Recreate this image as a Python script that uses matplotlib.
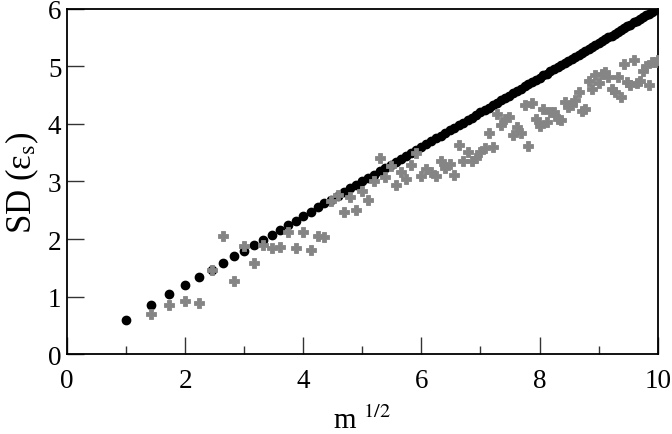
import numpy as np
import matplotlib
matplotlib.use("Agg")
import matplotlib.pyplot as plt
from matplotlib.ticker import MultipleLocator

plt.rcParams['font.family'] = ['Liberation Serif', 'DejaVu Serif']
plt.rcParams['mathtext.fontset'] = 'stix'

# x = m^(1/2), m = 1..100
root_m = [
    1.000, 1.414, 1.732, 2.000, 2.236, 2.449, 2.646, 2.828, 3.000, 3.162,
    3.317, 3.464, 3.606, 3.742, 3.873, 4.000, 4.123, 4.243, 4.359, 4.472,
    4.583, 4.690, 4.796, 4.899, 5.000, 5.099, 5.196, 5.292, 5.385, 5.477,
    5.568, 5.657, 5.745, 5.831, 5.916, 6.000, 6.083, 6.164, 6.245, 6.325,
    6.403, 6.481, 6.557, 6.633, 6.708, 6.782, 6.856, 6.928, 7.000, 7.071,
    7.141, 7.211, 7.280, 7.348, 7.416, 7.483, 7.550, 7.616, 7.681, 7.746,
    7.810, 7.874, 7.937, 8.000, 8.062, 8.124, 8.185, 8.246, 8.307, 8.367,
    8.426, 8.485, 8.544, 8.602, 8.660, 8.718, 8.775, 8.832, 8.888, 8.944,
    9.000, 9.055, 9.110, 9.165, 9.220, 9.274, 9.327, 9.381, 9.434, 9.487,
    9.539, 9.592, 9.644, 9.695, 9.747, 9.798, 9.849, 9.899, 9.950, 10.000,
]

# black dots
sd_black = [
    0.60, 0.85, 1.04, 1.20, 1.34, 1.47, 1.59, 1.70, 1.80, 1.90,
    1.99, 2.08, 2.16, 2.25, 2.32, 2.40, 2.47, 2.55, 2.62, 2.68,
    2.75, 2.81, 2.88, 2.94, 3.00, 3.06, 3.12, 3.18, 3.23, 3.29,
    3.34, 3.39, 3.45, 3.50, 3.55, 3.60, 3.65, 3.70, 3.75, 3.79,
    3.84, 3.89, 3.93, 3.98, 4.02, 4.07, 4.11, 4.16, 4.20, 4.24,
    4.28, 4.33, 4.37, 4.41, 4.45, 4.49, 4.53, 4.57, 4.61, 4.65,
    4.69, 4.72, 4.76, 4.80, 4.84, 4.87, 4.91, 4.95, 4.98, 5.02,
    5.06, 5.09, 5.13, 5.16, 5.20, 5.23, 5.27, 5.30, 5.33, 5.37,
    5.40, 5.43, 5.47, 5.50, 5.53, 5.56, 5.60, 5.63, 5.66, 5.69,
    5.72, 5.76, 5.79, 5.82, 5.85, 5.88, 5.91, 5.94, 5.97, 6.00,
]

# grey crosses (none at m = 1)
sd_grey = [
    np.nan, 0.70, 0.85, 0.93, 0.90, 1.46, 2.06, 1.27, 1.88, 1.58,
    1.90, 1.84, 1.87, 2.13, 1.84, 2.13, 1.81, 2.06, 2.04, 2.67,
    2.77, 2.47, 2.73, 2.51, 2.84, 2.68, 3.01, 3.40, 3.08, 3.26,
    2.94, 3.17, 3.04, 3.29, 3.49, 3.10, 3.22, 3.16, 3.10, 3.35,
    3.24, 3.31, 3.11, 3.63, 3.35, 3.51, 3.36, 3.40, 3.52, 3.58,
    3.84, 3.59, 4.17, 3.98, 4.09, 4.12, 3.81, 3.94, 3.84, 4.33,
    3.62, 4.37, 4.09, 3.97, 4.25, 4.03, 4.20, 4.20, 4.08, 4.06,
    4.38, 4.29, 4.32, 4.41, 4.55, 4.23, 4.26, 4.75, 4.60, 4.85,
    4.70, 4.87, 4.90, 4.81, 4.61, 4.56, 4.81, 4.46, 5.04, 4.72,
    4.67, 5.10, 4.70, 4.75, 4.91, 5.01, 4.67, 5.07, 5.08, 5.10,
]

fig = plt.figure(figsize=(6.72, 4.35), dpi=100)
ax = fig.add_axes([0.0997, 0.183, 0.879, 0.795])

ax.plot(root_m, sd_black, 'o', color='black', ms=6, mec='black', zorder=2)
ax.plot(root_m, sd_grey, 'P', color='#858585', ms=6.5, mec='#858585',
        mew=0.6, zorder=3)

ax.set_xlim(0, 10)
ax.set_ylim(0, 6)
ax.xaxis.set_major_locator(MultipleLocator(2))
ax.xaxis.set_minor_locator(MultipleLocator(1))
ax.yaxis.set_major_locator(MultipleLocator(1))

ax.tick_params(which='both', direction='in', top=False, right=False,
               color='#333333', width=1.0)
ax.tick_params(which='major', length=12, labelsize=19.5)
ax.tick_params(axis='x', which='major', pad=10)
ax.tick_params(axis='y', which='major', pad=4)
ax.tick_params(which='minor', length=6)

for s in ax.spines.values():
    s.set_linewidth(1.3)

ax.set_xlabel('m $^{1/2}$', fontsize=21, labelpad=9)
ax.set_ylabel('SD (ε$_{\\rm s}$)', fontsize=25, labelpad=5)

fig.savefig('out.png', dpi=100)
